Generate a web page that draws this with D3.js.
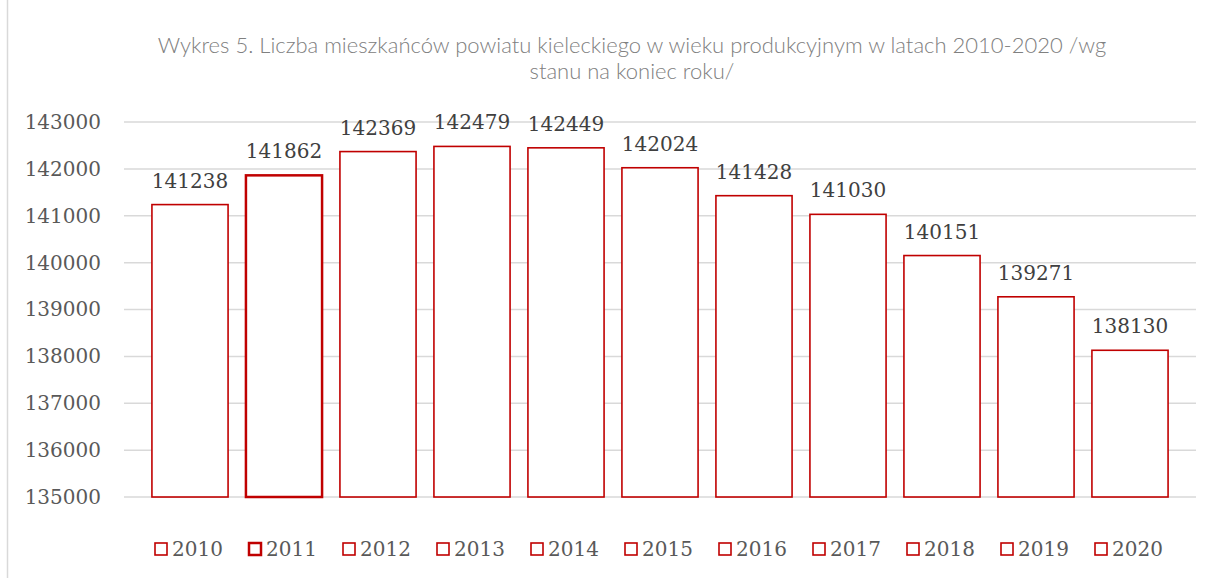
<!DOCTYPE html>
<html lang="pl">
<head>
<meta charset="UTF-8">
<title>Wykres 5</title>
<style>
  body { margin: 0; background: #fff; }
  svg { display: block; }
</style>
</head>
<body>
<script src="https://d3js.org/d3.v7.min.js"></script>
<script>
  // dane
  const years = ['2010', '2011', '2012', '2013', '2014', '2015', '2016', '2017', '2018', '2019', '2020'];
  const values = [141238, 141862, 142369, 142479, 142449, 142024, 141428, 141030, 140151, 139271, 138130];
  const yTicks = [135000, 136000, 137000, 138000, 139000, 140000, 141000, 142000, 143000];
  const titleLines = ['Wykres 5. Liczba mieszkańców powiatu kieleckiego w wieku produkcyjnym w latach 2010-2020 /wg', 'stanu na koniec roku/'];

  const width = 1212, height = 578;
  const plot = { left: 124, right: 1196, top: 122, bottom: 497 };
  const red = '#C00000';
  const numFont = '"DejaVu Serif", serif';

  const svg = d3.select('body').append('svg')
    .attr('width', width)
    .attr('height', height);

  // ramka wykresu
  svg.append('line')
    .attr('x1', 7.5).attr('x2', 7.5)
    .attr('y1', 0).attr('y2', height)
    .attr('stroke', '#d9d9d9')
    .attr('stroke-width', 1.5);

  // tytuł
  svg.append('g').selectAll('text').data(titleLines).join('text')
    .attr('x', 632)
    .attr('y', (d, i) => 53 + i * 26)
    .attr('text-anchor', 'middle')
    .attr('font-family', 'Lato, "Open Sans", sans-serif')
    .attr('font-weight', 300)
    .attr('font-size', 22)
    .attr('fill', '#808080')
    .text(d => d);

  // skale
  const x = d3.scaleBand().domain(years)
    .range([plot.left + 19, plot.right - 19])
    .paddingInner(0.19)
    .paddingOuter(0.095);
  const y = d3.scaleLinear().domain([135000, 143000]).range([plot.bottom, plot.top]);

  // siatka
  svg.append('g').selectAll('line').data(yTicks).join('line')
    .attr('x1', plot.left).attr('x2', plot.right)
    .attr('y1', d => y(d)).attr('y2', d => y(d))
    .attr('stroke', '#d9d9d9')
    .attr('stroke-width', 1.5);

  // oś Y
  svg.append('g')
    .attr('transform', `translate(${plot.left},0)`)
    .call(d3.axisLeft(y).tickValues(yTicks).tickSize(0).tickPadding(23).tickFormat(d => d))
    .call(g => g.select('.domain').remove())
    .call(g => g.selectAll('text')
      .attr('font-family', numFont)
      .attr('font-size', 20)
      .attr('fill', '#595959'));

  // słupki
  svg.append('g').selectAll('rect').data(values).join('rect')
    .attr('x', (d, i) => x(years[i]))
    .attr('y', d => y(d))
    .attr('width', x.bandwidth())
    .attr('height', d => y(135000) - y(d))
    .attr('fill', '#fff')
    .attr('stroke', red)
    .attr('stroke-width', (d, i) => i === 1 ? 2.5 : 1.6);

  // etykiety wartości
  svg.append('g').selectAll('text').data(values).join('text')
    .attr('x', (d, i) => x(years[i]) + x.bandwidth() / 2)
    .attr('y', d => y(d) - 17)
    .attr('text-anchor', 'middle')
    .attr('font-family', numFont)
    .attr('font-size', 20)
    .attr('fill', '#404040')
    .text(d => d);

  // legenda
  const legend = svg.append('g').selectAll('g').data(years).join('g')
    .attr('transform', d => `translate(${x(d) + x.bandwidth() / 2 - 35},549)`);
  legend.append('rect')
    .attr('x', 0).attr('y', -6)
    .attr('width', 12).attr('height', 12)
    .attr('fill', '#fff')
    .attr('stroke', red)
    .attr('stroke-width', (d, i) => i === 1 ? 2.5 : 1.6);
  legend.append('text')
    .attr('x', 17)
    .attr('dy', '0.35em')
    .attr('font-family', numFont)
    .attr('font-size', 20)
    .attr('fill', '#595959')
    .text(d => d);
</script>
</body>
</html>
